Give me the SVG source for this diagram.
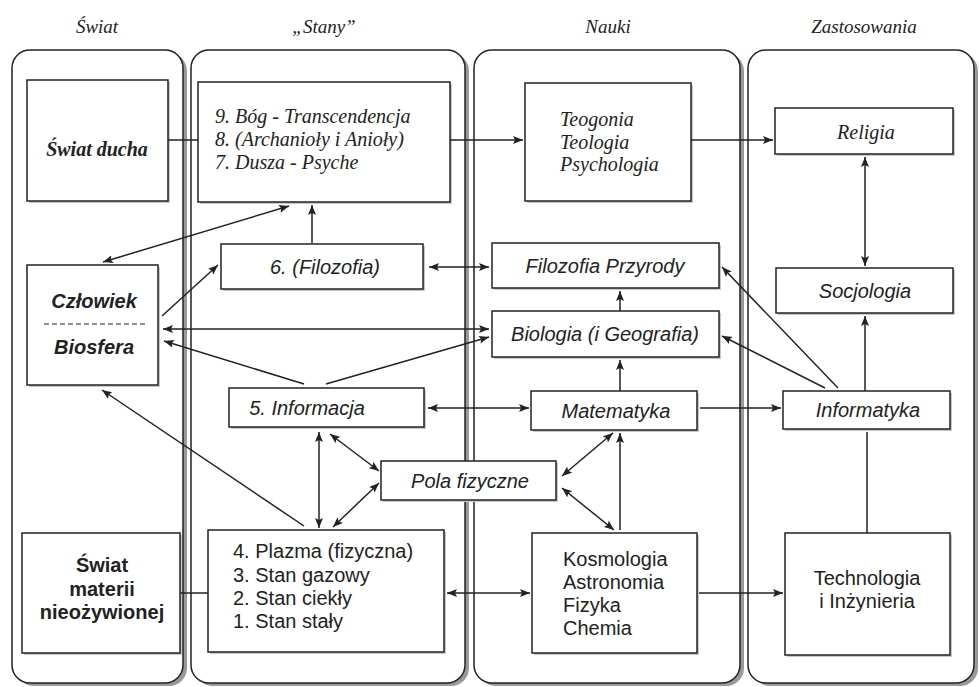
<svg xmlns="http://www.w3.org/2000/svg" width="979" height="687" viewBox="0 0 979 687">
<defs>
<marker id="ah" viewBox="0 0 10 8" refX="10" refY="4" markerWidth="10" markerHeight="8" markerUnits="userSpaceOnUse" orient="auto-start-reverse">
<path d="M0,0 L10,4 L0,8 L2,4 Z" fill="#222"/>
</marker>
</defs>
<style>
.panel{fill:#fff;stroke:#222;stroke-width:1.5}
.pshadow{fill:#9a9a9a}
.box{fill:#fff;stroke:#222;stroke-width:1.5}
.bshadow{fill:#c8c8c8}
.hdr{font-family:"Liberation Serif",serif;font-style:italic;font-size:19px;fill:#222}
.si{font-family:"Liberation Serif",serif;font-style:italic;font-size:20px;fill:#222}
.sib{font-family:"Liberation Serif",serif;font-style:italic;font-weight:bold;font-size:20px;fill:#222}
.ai{font-family:"Liberation Sans",sans-serif;font-style:italic;font-size:20px;fill:#222}
.aib{font-family:"Liberation Sans",sans-serif;font-style:italic;font-weight:bold;font-size:20px;fill:#222}
.ab{font-family:"Liberation Sans",sans-serif;font-weight:bold;font-size:20px;fill:#222}
.a{font-family:"Liberation Sans",sans-serif;font-size:20px;fill:#222}
.c{stroke:#222;stroke-width:1.5;fill:none}
.e{marker-end:url(#ah)}
.b{marker-start:url(#ah);marker-end:url(#ah)}
</style>
<rect width="979" height="687" fill="#fff"/>

<g id="headers">
<text class="hdr" x="97" y="33" text-anchor="middle">Świat</text>
<text class="hdr" x="324" y="33" text-anchor="middle">„Stany”</text>
<text class="hdr" x="608" y="33" text-anchor="middle">Nauki</text>
<text class="hdr" x="864" y="33" text-anchor="middle">Zastosowania</text>
</g>

<g id="panels">
<rect class="pshadow" x="16" y="53" width="171" height="633" rx="18"/>
<rect class="panel" x="12" y="50" width="171" height="633" rx="18"/>
<rect class="pshadow" x="195" y="53" width="274" height="633" rx="18"/>
<rect class="panel" x="191" y="50" width="274" height="633" rx="18"/>
<rect class="pshadow" x="478" y="53" width="266" height="633" rx="18"/>
<rect class="panel" x="474" y="50" width="266" height="633" rx="18"/>
<rect class="pshadow" x="752" y="53" width="226" height="633" rx="18"/>
<rect class="panel" x="748" y="50" width="226" height="633" rx="18"/>
</g>

<g id="swiat-ducha">
<rect class="bshadow" x="29" y="82" width="141" height="121"/>
<rect class="box" x="27" y="80" width="141" height="121"/>
<text class="sib" x="97" y="156" text-anchor="middle">Świat ducha</text>
</g>

<g id="stany-duch">
<rect class="bshadow" x="200" y="84" width="252" height="120"/>
<rect class="box" x="198" y="82" width="252" height="120"/>
<text class="si" x="215" y="123">9. Bóg - Transcendencja</text>
<text class="si" x="215" y="146">8. (Archanioły i Anioły)</text>
<text class="si" x="215" y="169">7. Dusza - Psyche</text>
</g>

<g id="teogonia">
<rect class="bshadow" x="527" y="85" width="166" height="118"/>
<rect class="box" x="525" y="83" width="166" height="118"/>
<text class="si" x="560" y="126">Teogonia</text>
<text class="si" x="560" y="149">Teologia</text>
<text class="si" x="560" y="171">Psychologia</text>
</g>

<g id="religia">
<rect class="bshadow" x="777" y="110" width="178" height="46"/>
<rect class="box" x="775" y="108" width="178" height="46"/>
<text class="si" x="866" y="139" text-anchor="middle">Religia</text>
</g>

<g id="filozofia">
<rect class="bshadow" x="223" y="246" width="202" height="45"/>
<rect class="box" x="221" y="244" width="202" height="45"/>
<text class="ai" x="325" y="274" text-anchor="middle">6. (Filozofia)</text>
</g>

<g id="filozofia-przyrody">
<rect class="bshadow" x="494" y="245" width="227" height="45"/>
<rect class="box" x="492" y="243" width="227" height="45"/>
<text class="ai" x="605" y="273" text-anchor="middle">Filozofia Przyrody</text>
</g>

<g id="czlowiek">
<rect class="bshadow" x="29" y="267" width="131" height="120"/>
<rect class="box" x="27" y="265" width="131" height="120"/>
<text class="aib" x="94" y="308" text-anchor="middle">Człowiek</text>
<line x1="44" y1="324" x2="148" y2="324" stroke="#222" stroke-width="1.2" stroke-dasharray="5,3"/>
<text class="aib" x="94" y="354" text-anchor="middle">Biosfera</text>
</g>

<g id="socjologia">
<rect class="bshadow" x="778" y="270" width="177" height="45"/>
<rect class="box" x="776" y="268" width="177" height="45"/>
<text class="ai" x="865" y="298" text-anchor="middle">Socjologia</text>
</g>

<g id="biologia">
<rect class="bshadow" x="494" y="313" width="227" height="46"/>
<rect class="box" x="492" y="311" width="227" height="46"/>
<text class="ai" x="605" y="341" text-anchor="middle">Biologia (i Geografia)</text>
</g>

<g id="informacja">
<rect class="bshadow" x="231" y="390" width="195" height="39"/>
<rect class="box" x="229" y="388" width="195" height="39"/>
<text class="ai" x="307" y="415" text-anchor="middle">5. Informacja</text>
</g>

<g id="matematyka">
<rect class="bshadow" x="533" y="393" width="166" height="39"/>
<rect class="box" x="531" y="391" width="166" height="39"/>
<text class="ai" x="616" y="418" text-anchor="middle">Matematyka</text>
</g>

<g id="informatyka">
<rect class="bshadow" x="785" y="393" width="167" height="38"/>
<rect class="box" x="783" y="391" width="167" height="38"/>
<text class="ai" x="868" y="417" text-anchor="middle">Informatyka</text>
</g>

<g id="pola">
<rect class="bshadow" x="383" y="463" width="175" height="39"/>
<rect class="box" x="381" y="461" width="175" height="39"/>
<text class="ai" x="470" y="488" text-anchor="middle">Pola fizyczne</text>
</g>

<g id="swiat-materii">
<rect class="bshadow" x="24" y="535" width="158" height="120"/>
<rect class="box" x="22" y="533" width="158" height="120"/>
<text class="ab" x="102" y="572" text-anchor="middle">Świat</text>
<text class="ab" x="102" y="596" text-anchor="middle">materii</text>
<text class="ab" x="102" y="619" text-anchor="middle">nieożywionej</text>
</g>

<g id="plazma">
<rect class="bshadow" x="210" y="532" width="236" height="122"/>
<rect class="box" x="208" y="530" width="236" height="122"/>
<text class="a" x="233" y="558">4. Plazma (fizyczna)</text>
<text class="a" x="233" y="582">3. Stan gazowy</text>
<text class="a" x="233" y="605">2. Stan ciekły</text>
<text class="a" x="233" y="628">1. Stan stały</text>
</g>

<g id="kosmologia">
<rect class="bshadow" x="534" y="535" width="165" height="120"/>
<rect class="box" x="532" y="533" width="165" height="120"/>
<text class="a" x="563" y="566">Kosmologia</text>
<text class="a" x="563" y="589">Astronomia</text>
<text class="a" x="563" y="612">Fizyka</text>
<text class="a" x="563" y="635">Chemia</text>
</g>

<g id="technologia">
<rect class="bshadow" x="787" y="535" width="165" height="122"/>
<rect class="box" x="785" y="533" width="165" height="122"/>
<text class="a" x="867" y="585" text-anchor="middle">Technologia</text>
<text class="a" x="867" y="608" text-anchor="middle">i Inżynieria</text>
</g>

<g id="connectors">
<line class="c" x1="168" y1="140" x2="198" y2="140"/>
<line class="c e" x1="450" y1="140" x2="523" y2="140"/>
<line class="c e" x1="691" y1="140" x2="773" y2="140"/>
<line class="c b" x1="103" y1="262" x2="289" y2="206"/>
<line class="c e" x1="312" y1="243" x2="312" y2="205"/>
<line class="c b" x1="429" y1="267" x2="489" y2="267"/>
<line class="c e" x1="162" y1="316" x2="218" y2="265"/>
<line class="c b" x1="163" y1="329" x2="489" y2="329"/>
<line class="c e" x1="304" y1="384" x2="164" y2="341"/>
<line class="c e" x1="326" y1="384" x2="489" y2="337"/>
<line class="c e" x1="620" y1="311" x2="620" y2="291"/>
<line class="c b" x1="865" y1="157" x2="865" y2="266"/>
<line class="c e" x1="620" y1="391" x2="620" y2="360"/>
<line class="c e" x1="838" y1="388" x2="722" y2="267"/>
<line class="c e" x1="825" y1="388" x2="722" y2="336"/>
<line class="c e" x1="865" y1="391" x2="865" y2="316"/>
<line class="c b" x1="428" y1="408" x2="529" y2="408"/>
<line class="c e" x1="700" y1="408" x2="781" y2="408"/>
<line class="c b" x1="319" y1="432" x2="319" y2="528"/>
<line class="c b" x1="330" y1="434" x2="379" y2="471"/>
<line class="c b" x1="379" y1="483" x2="333" y2="527"/>
<line class="c b" x1="562" y1="476" x2="613" y2="433"/>
<line class="c b" x1="562" y1="488" x2="614" y2="530"/>
<line class="c e" x1="620" y1="530" x2="620" y2="433"/>
<line class="c e" x1="304" y1="526" x2="102" y2="390"/>
<line class="c" x1="180" y1="593" x2="208" y2="593"/>
<line class="c b" x1="447" y1="593" x2="530" y2="593"/>
<line class="c e" x1="699" y1="593" x2="783" y2="593"/>
<line class="c" x1="867" y1="533" x2="867" y2="432"/>
</g>
</svg>
